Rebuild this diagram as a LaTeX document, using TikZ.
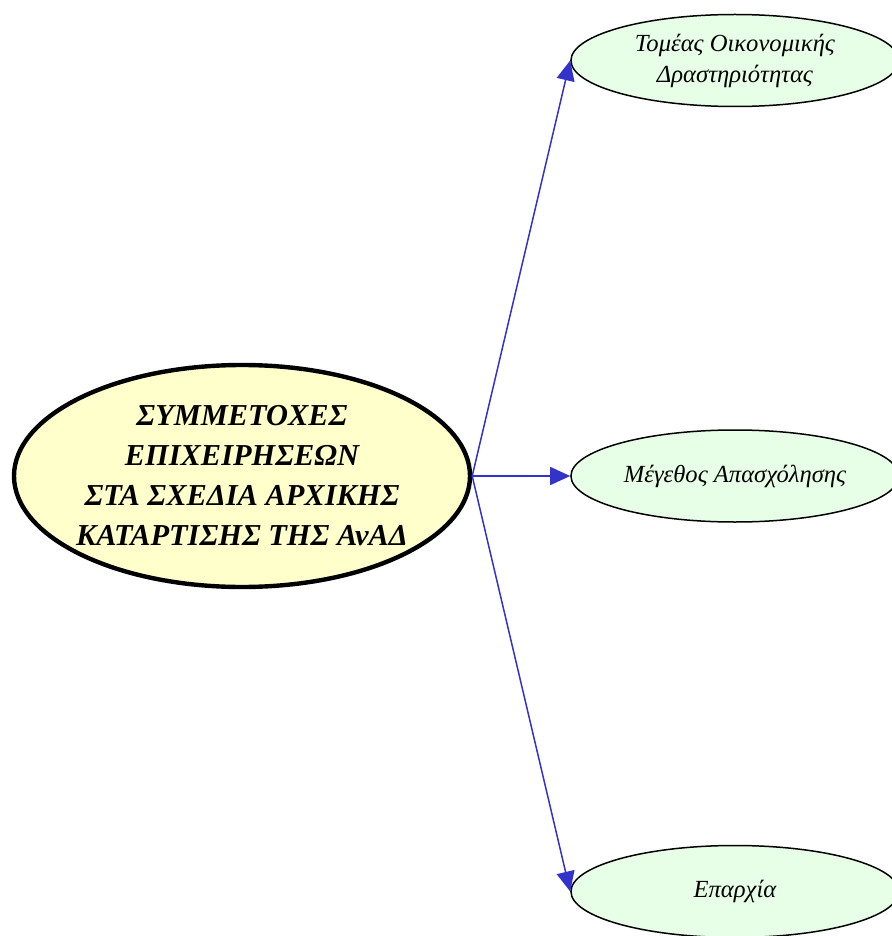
\documentclass[tikz,border=0pt]{standalone}
\usepackage{fontspec}
\setmainfont{Liberation Serif}
\usetikzlibrary{arrows.meta,positioning,shapes.geometric}
\definecolor{mainfill}{RGB}{255,255,204}
\definecolor{factfill}{RGB}{230,255,230}
\definecolor{arrblue}{RGB}{51,51,204}

\begin{document}
\begin{tikzpicture}[
  topic/.style={ellipse, draw=black, line width=2.2pt, fill=mainfill, align=center, minimum width=228pt, minimum height=111pt, inner xsep=-6pt, inner ysep=0pt, font=\fontsize{15.2}{20}\selectfont\bfseries\itshape},
  factor/.style={ellipse, draw=black, line width=0.75pt, fill=factfill, align=center, minimum width=164pt, minimum height=46pt, inner sep=0pt, font=\fontsize{12.3}{15.5}\selectfont\itshape},
  arr/.style={-{Triangle[length=10pt,width=9pt]}, line width=0.75pt, draw=arrblue, fill=arrblue}
]
\useasboundingbox (0,0) rectangle (445.5pt,-468pt);
\node[topic] (main) at (121pt,-238pt) {ΣΥΜΜΕΤΟΧΕΣ\\ΕΠΙΧΕΙΡΗΣΕΩΝ\\ΣΤΑ ΣΧΕΔΙΑ ΑΡΧΙΚΗΣ\\ΚΑΤΑΡΤΙΣΗΣ ΤΗΣ ΑνΑΔ};
\node[factor, right=49pt of main] (size) {Μέγεθος Απασχόλησης};
\node[factor, above=161pt of size] (sector) {Τομέας Οικονομικής\\Δραστηριότητας};
\node[factor, below=161pt of size] (region) {Επαρχία};
\draw[arr] (main.east) -- (sector.west);
\draw[arr] (main.east) -- (size.west);
\draw[arr] (main.east) -- (region.west);
\end{tikzpicture}
\end{document}
